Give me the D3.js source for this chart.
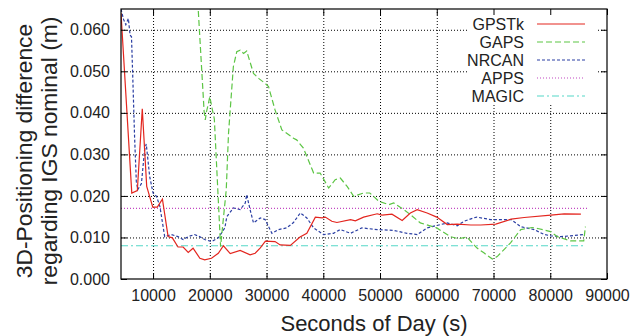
<!DOCTYPE html>
<html>
<head>
<meta charset="utf-8">
<script src="https://cdn.jsdelivr.net/npm/d3@7"></script>
<style>
  body { margin: 0; background: #fff; }
  svg text { font-family: "Liberation Sans", Arial, Helvetica, sans-serif; fill: #222; }
</style>
</head>
<body>
<div id="chart"></div>
<script>
// seconds of day, 3D positioning difference (m)
const gpstk = [
  [4350, 0.064], [6250, 0.0207], [7230, 0.0213], [8100, 0.041], [8880, 0.0223], [9950, 0.0173],
  [10750, 0.0173], [11650, 0.0192], [12650, 0.0102], [13400, 0.0099], [14400, 0.0077], [15300, 0.0077],
  [16200, 0.0064], [17050, 0.0074], [18250, 0.005], [19100, 0.0046], [20300, 0.005], [21500, 0.0062],
  [22400, 0.008], [23600, 0.0061], [25350, 0.0069], [27100, 0.0058], [28000, 0.0062], [28900, 0.0075],
  [29800, 0.0091], [31500, 0.009], [32400, 0.0082], [34200, 0.0081], [35900, 0.0101], [37100, 0.011],
  [38600, 0.0149], [39800, 0.0147], [40350, 0.0149], [41500, 0.0139], [42400, 0.0136], [44800, 0.0143],
  [45650, 0.014], [47100, 0.0149], [49500, 0.0157], [50350, 0.0154], [52100, 0.0156], [53900, 0.0141],
  [55350, 0.0159], [56550, 0.0167], [58300, 0.0159], [60000, 0.0149], [61850, 0.0131], [63600, 0.0132],
  [66000, 0.013], [67750, 0.013], [70400, 0.0132], [73100, 0.0144], [75400, 0.0148], [80100, 0.0154],
  [82450, 0.0157], [85400, 0.0156]
];
const gaps = [
  [17700, 0.071], [19000, 0.0403], [19200, 0.0383], [19450, 0.0405], [19700, 0.0419], [20000, 0.0439],
  [20400, 0.0411], [20800, 0.0385], [21900, 0.0078], [22900, 0.0215], [23300, 0.0351], [24150, 0.0511],
  [24750, 0.0547], [25350, 0.0551], [25950, 0.0543], [26500, 0.0549], [27700, 0.0495], [28600, 0.0483],
  [29750, 0.0471], [30350, 0.0463], [31500, 0.0407], [32700, 0.0359], [33550, 0.0351], [34750, 0.0339],
  [35300, 0.0335], [36500, 0.0315], [38300, 0.0255], [39450, 0.0255], [40950, 0.0219], [42100, 0.0239],
  [43000, 0.0243], [44200, 0.0223], [45350, 0.0199], [47100, 0.0207], [48200, 0.0207], [49800, 0.0187],
  [51550, 0.0179], [52400, 0.0183], [54200, 0.0167], [55350, 0.0155], [57100, 0.0135], [60000, 0.0123],
  [62400, 0.0102], [63850, 0.0097], [65300, 0.0101], [67050, 0.0075], [68300, 0.0063], [69800, 0.0048],
  [70650, 0.0054], [73000, 0.0087], [74800, 0.0119], [76800, 0.0124], [78000, 0.0121], [80050, 0.0114],
  [81250, 0.0102], [83550, 0.0092], [85900, 0.0092], [86200, 0.0126]
];
const nrcan = [
  [4350, 0.065], [4800, 0.0625], [5200, 0.0612], [5650, 0.0627], [5950, 0.0587], [6200, 0.0583],
  [6450, 0.0475], [6750, 0.034], [7050, 0.0235], [7300, 0.0215], [7950, 0.023], [8500, 0.031],
  [8800, 0.0325], [9400, 0.0247], [10000, 0.0207], [10600, 0.0199], [11200, 0.0175], [12050, 0.0102],
  [13200, 0.0107], [14400, 0.0102], [15300, 0.0095], [16200, 0.0102], [17300, 0.0107], [18200, 0.0102],
  [19100, 0.0095], [20300, 0.009], [21500, 0.0099], [22650, 0.0123], [23000, 0.015], [24150, 0.0171],
  [25350, 0.0167], [26250, 0.0183], [26500, 0.0203], [27100, 0.0167], [27700, 0.0135], [28900, 0.0147],
  [29750, 0.0143], [30950, 0.011], [32100, 0.0119], [33550, 0.0123], [34750, 0.0136], [35950, 0.0159],
  [37100, 0.0147], [38300, 0.0123], [40050, 0.0107], [41800, 0.011], [43000, 0.0119], [44800, 0.011],
  [46800, 0.0123], [49500, 0.0119], [52400, 0.0117], [54750, 0.011], [56550, 0.0107], [58300, 0.0123],
  [60650, 0.0131], [61850, 0.0135], [63600, 0.0128], [64800, 0.0139], [66500, 0.0147], [67050, 0.0149],
  [69500, 0.0143], [70650, 0.0143], [73100, 0.0143], [74800, 0.0126], [77150, 0.0119], [78950, 0.0107],
  [80100, 0.0104], [81900, 0.0102], [83550, 0.0104], [85900, 0.0107]
];
const apps = [[4350, 0.017], [86600, 0.017]];
const magic = [[4350, 0.008], [86000, 0.008]];

const seriesNames = ['GPSTk', 'GAPS', 'NRCAN', 'APPS', 'MAGIC'];
const xTicks = [10000, 20000, 30000, 40000, 50000, 60000, 70000, 80000, 90000];
const yTicks = [0, 0.01, 0.02, 0.03, 0.04, 0.05, 0.06];

const series = [
  {name: 'GPSTk', data: gpstk, color: '#e3261f', dash: null},
  {name: 'GAPS', data: gaps, color: '#5cc544', dash: '6,3'},
  {name: 'NRCAN', data: nrcan, color: '#2b3fa3', dash: '3,2'},
  {name: 'APPS', data: apps, color: '#c248c2', dash: '1,2'},
  {name: 'MAGIC', data: magic, color: '#55d8c8', dash: '7,3,2,3'}
];

const width = 644, height = 336;
const margin = {top: 9, right: 37, bottom: 57, left: 121};
const w = width - margin.left - margin.right;
const h = height - margin.top - margin.bottom;

const svg = d3.select('#chart').append('svg')
  .attr('width', width)
  .attr('height', height);

const g = svg.append('g')
  .attr('transform', `translate(${margin.left},${margin.top})`);

const x = d3.scaleLinear().domain([4350, 90000]).range([0, w]);
const y = d3.scaleLinear().domain([0, 0.065]).range([h, 0]);

// grid
const gridX = g.append('g')
  .call(d3.axisBottom(x).tickValues(xTicks.slice(0, -1)).tickSize(h).tickFormat(''));
const gridY = g.append('g')
  .call(d3.axisLeft(y).tickValues(yTicks.slice(1)).tickSize(-w).tickFormat(''));
[gridX, gridY].forEach(s => {
  s.select('.domain').remove();
  s.selectAll('line').attr('stroke', '#000').attr('stroke-dasharray', '1,2');
});

// legend background hides grid
g.append('rect')
  .attr('x', 347).attr('y', 0)
  .attr('width', 128).attr('height', 94)
  .attr('fill', '#fff');

// data lines
g.append('clipPath').attr('id', 'clip')
  .append('rect').attr('width', w).attr('height', h);

const line = d3.line()
  .x(d => x(d[0]))
  .y(d => y(d[1]));

const plot = g.append('g').attr('clip-path', 'url(#clip)');
series.slice().reverse().forEach(s => {
  plot.append('path')
    .datum(s.data)
    .attr('d', line)
    .attr('fill', 'none')
    .attr('stroke', s.color)
    .attr('stroke-width', 1.2)
    .attr('stroke-dasharray', s.dash);
});

// axes with ticks on all four sides
const xAxis = g.append('g')
  .attr('transform', `translate(0,${h})`)
  .call(d3.axisBottom(x).tickValues(xTicks).tickSizeInner(-6).tickSizeOuter(0).tickPadding(11).tickFormat(d3.format('d')));
const xTop = g.append('g')
  .call(d3.axisBottom(x).tickValues(xTicks).tickSizeInner(6).tickSizeOuter(0).tickFormat(''));
const yAxis = g.append('g')
  .call(d3.axisLeft(y).tickValues(yTicks).tickSizeInner(-6).tickSizeOuter(0).tickPadding(11).tickFormat(d3.format('.3f')));
const yRight = g.append('g')
  .attr('transform', `translate(${w},0)`)
  .call(d3.axisLeft(y).tickValues(yTicks).tickSizeInner(6).tickSizeOuter(0).tickFormat(''));
[xAxis, xTop, yAxis, yRight].forEach(s => {
  s.select('.domain').remove();
  s.selectAll('line').attr('stroke', '#000');
  s.selectAll('text').attr('font-size', 16).attr('fill', '#222')
    .attr('font-family', '"Liberation Sans", Arial, sans-serif');
});

g.append('rect')
  .attr('width', w).attr('height', h)
  .attr('fill', 'none')
  .attr('stroke', '#000')
  .attr('stroke-width', 1.2);

// legend
const legend = g.append('g').attr('transform', 'translate(0,15)');
series.forEach((s, i) => {
  const row = legend.append('g').attr('transform', `translate(0,${i * 18})`);
  row.append('text')
    .attr('x', 403).attr('y', 6)
    .attr('text-anchor', 'end')
    .attr('font-size', 16)
    .text(s.name);
  row.append('line')
    .attr('x1', 416).attr('x2', 464)
    .attr('stroke', s.color)
    .attr('stroke-width', 1.2)
    .attr('stroke-dasharray', s.dash);
});

// axis titles
svg.append('text')
  .attr('x', 374).attr('y', 331)
  .attr('text-anchor', 'middle')
  .attr('font-size', 22)
  .text('Seconds of Day (s)');

const yTitle = svg.append('text')
  .attr('transform', 'translate(32,151) rotate(-90)')
  .attr('text-anchor', 'middle')
  .attr('font-size', 22.8);
yTitle.append('tspan').attr('x', 0).attr('y', 0).text('3D-Positioning difference');
yTitle.append('tspan').attr('x', 0).attr('y', 25).text('regarding IGS nominal (m)');
</script>
</body>
</html>
